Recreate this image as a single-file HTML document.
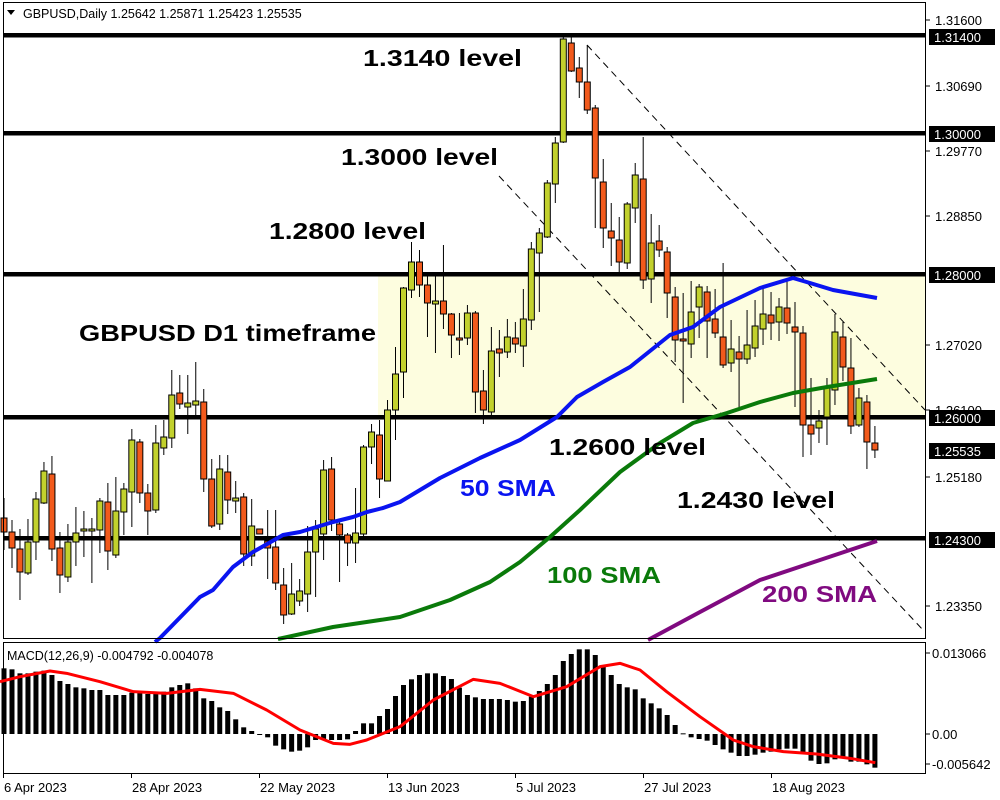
<!DOCTYPE html>
<html><head><meta charset="utf-8"><style>
html,body{margin:0;padding:0;background:#fff;}
svg{display:block;font-family:"Liberation Sans",sans-serif;}
</style></head><body>
<svg id="s" width="1000" height="800" xmlns="http://www.w3.org/2000/svg">
<rect width="1000" height="800" fill="#fff"/>
<rect x="378" y="276" width="547" height="144" fill="#fdfddf"/>
<g id="g"></g>
</svg>
<script>
var C=[
['r',518,532,498,550],['r',532,548,520,568],['r',549,572,529,600],['g',542,573,519,575],['g',499,542,492,560],
['g',471,503,462,504],['r',474,549,456,561],['r',548,575,532,593],['g',542,577,524,582],['g',533,542,507,566],
['g',529,531,511,557],['g',529,531,518,583],['g',501,530,498,553],['r',502,551,483,570],['g',511,555,477,558],
['g',489,512,483,535],['g',440,492,429,527],['r',442,493,439,503],['r',493,511,484,535],['g',443,510,425,513],
['g',437,448,420,455],['g',395,438,370,448],['r',393,404,375,409],['g',403,407,375,434],['g',401,405,362,415],
['r',402,479,389,492],['r',479,526,459,528],['g',469,524,455,530],['r',472,500,455,514],['g',498,501,481,513],
['r',497,554,493,566],['g',526,556,499,566],['r',529,534,529,534],['r',541,548,510,579],['r',547,583,510,590],
['r',585,615,568,624],['g',594,614,563,615],['g',591,601,579,606],['g',552,594,526,612],['g',529,552,520,597],
['g',470,534,460,560],['r',469,520,457,531],['r',524,535,520,582],['r',535,543,533,566],['g',533,543,488,563],
['g',447,534,445,537],['g',432,447,424,464],['r',435,479,420,498],['g',410,481,400,481],['g',374,410,347,440],
['g',288,372,287,398],['g',262,290,242,298],['r',262,285,250,297],['r',285,303,272,337],['g',301,304,273,353],
['r',301,314,245,329],['r',314,335,313,358],['r',338,340,313,355],['g',313,338,305,345],['r',313,392,311,413],
['r',391,410,370,424],['g',351,412,327,415],['r',349,353,330,377],['g',337,352,319,358],['r',338,344,322,353],
['g',319,346,289,367],['g',249,320,242,330],['g',233,253,228,312],['g',183,237,180,238],['g',143,184,137,203],
['g',39,142,37,143],['r',43,71,37,72],['r',68,82,57,98],['r',82,110,45,114],['r',108,178,105,228],
['r',182,228,159,248],['r',231,238,203,266],['r',240,262,217,273],['g',204,263,202,269],['g',175,208,163,223],
['r',179,280,137,289],['g',243,279,214,303],['r',241,250,225,257],['r',252,293,247,318],['r',297,340,287,362],
['r',339,341,293,403],['g',312,344,281,358],['g',287,307,284,338],['r',292,321,286,358],['r',319,333,289,338],
['r',337,365,263,368],['g',349,363,320,372],['r',352,359,336,407],['g',345,359,310,364],['g',326,348,300,357],
['g',314,329,286,345],['r',315,323,292,340],['g',307,322,298,341],['r',308,323,281,334],['r',327,332,302,407],
['r',333,425,326,457],['r',425,434,378,455],['g',421,428,410,443],['g',387,417,378,445],['g',332,390,314,405],
['r',337,367,322,381],['r',368,426,338,434],['g',398,425,388,427],['r',402,442,395,469],['r',443,450,426,458]];
var M=[115,118,130,130,125,122,135,153,162,172,175,180,180,195,195,195,188,188,192,190,185,172,165,160,175,205,213,232,243,268,292,303,312,322,347,358,365,362,352,330,330,330,330,328,303,280,280,258,237,198,165,148,135,130,130,138,147,173,195,202,207,207,
207,210,215,213,200,183,162,135,93,72,58,58,75,108,135,162,172,178,205,220,235,255,285,310,322,327,332,345,358,368,378,378,374,368,365,358,356,356,372,392,402,400,388,385,395,395,403,413];
var h='';
function X(i){return 4+7.99*i;}
[35,133,274,417,538].forEach(function(y){h+='<rect x="4" y="'+(y-2)+'" width="921" height="4.5" fill="#000"/>';});
h+='<line x1="587" y1="45" x2="925" y2="410" stroke="#000" stroke-width="1" stroke-dasharray="7,5"/>';
h+='<line x1="499" y1="176" x2="923" y2="630" stroke="#000" stroke-width="1" stroke-dasharray="7,5"/>';
C.forEach(function(c,i){var x=X(i);var col=c[0]=='g'?'#c2d12d':'#f25a1c';
h+='<line x1="'+x+'" y1="'+c[3]+'" x2="'+x+'" y2="'+c[4]+'" stroke="#000" stroke-width="1"/>';
var hh=Math.max(c[2]-c[1],1);
h+='<rect x="'+(x-3)+'" y="'+c[1]+'" width="6" height="'+hh+'" fill="'+col+'" stroke="#000" stroke-width="1"/>';});
function pl(p,col){h+='<polyline points="'+p+'" fill="none" stroke="'+col+'" stroke-width="4" stroke-linejoin="round"/>';}
pl('155,642 160,638 200,597 213,590 233,567 253,552 283,535 300,532 333,522 353,517 367,512 383,508 400,502 440,478 480,458 520,440 557,417 577,397 603,382 630,367 670,335 693,327 720,307 760,288 793,278 810,283 833,290 855,294 877,298','#0a14f0');
pl('278,639 333,627 380,620 400,617 450,600 490,582 520,562 550,537 580,510 620,472 660,443 693,423 727,413 760,402 793,393 827,387 877,379','#0a7a0a');
pl('648,640 700,612 760,580 820,560 877,541','#800a80');
h+='<rect x="3.5" y="2.5" width="922" height="636" fill="none" stroke="#000"/>';
h+='<rect x="3.5" y="642.5" width="922" height="131" fill="none" stroke="#000"/>';
M.forEach(function(v,i){var y=630+v/3;var x=X(i);var t=Math.min(y,734),b=Math.max(y,734);
h+='<rect x="'+(x-2.5)+'" y="'+t+'" width="5" height="'+Math.max(b-t,1)+'" fill="#000"/>';});
var sg=[[0,155],[60,140],[150,123],[200,130],[300,155],[400,185],[500,190],[600,178],[700,190],[800,240],[900,300],[1000,340],[1050,343],[1100,330],[1200,290],[1300,210],[1420,148]].map(function(p){return (p[0]/3)+','+(630+p[1]/3);});
var sg2=[[0,160],[100,200],[200,170],[300,110],[360,100],[420,120],[500,185],[600,260],[700,330],[760,350],[850,365],[950,372],[1050,385],[1126,398]].map(function(p){return (500+p[0]/3)+','+(630+p[1]/3);});
h+='<polyline points="'+sg.concat(sg2).join(' ')+'" fill="none" stroke="#f00" stroke-width="3" stroke-linejoin="round"/>';
[['1.31600',20],['1.30690',86],['1.29770',151],['1.28850',216],['1.27020',345],['1.26100',410],['1.25180',477],['1.23350',606]].forEach(function(a){
h+='<line x1="926" y1="'+a[1]+'" x2="930" y2="'+a[1]+'" stroke="#000"/><text x="935" y="'+(a[1]+5)+'" font-size="13" fill="#000">'+a[0]+'</text>';});
[['1.31400',37],['1.30000',134],['1.28000',275],['1.26000',418],['1.25535',451],['1.24300',540]].forEach(function(a){
h+='<rect x="929" y="'+(a[1]-8)+'" width="66" height="16" fill="#000"/><text x="934" y="'+(a[1]+5)+'" font-size="13" fill="#fff">'+a[0]+'</text>';});
[['0.013066',653],['0.00',734],['-0.005642',764]].forEach(function(a){
h+='<line x1="926" y1="'+a[1]+'" x2="930" y2="'+a[1]+'" stroke="#000"/><text x="932" y="'+(a[1]+5)+'" font-size="13" fill="#000">'+a[0]+'</text>';});
[['6 Apr 2023',3],['28 Apr 2023',131],['22 May 2023',259],['13 Jun 2023',387],['5 Jul 2023',515],['27 Jul 2023',643],['18 Aug 2023',771]].forEach(function(a){
h+='<line x1="'+a[1]+'.5" y1="774" x2="'+a[1]+'.5" y2="778" stroke="#000"/><text x="'+(a[1]+1)+'" y="792" font-size="13" fill="#000">'+a[0]+'</text>';});
h+='<polygon points="7,10 15,10 11,15" fill="#000"/><text x="23" y="18" font-size="12.5" fill="#000">GBPUSD,Daily  1.25642 1.25871 1.25423 1.25535</text>';
h+='<text x="7" y="660" font-size="12.5" fill="#000">MACD(12,26,9) -0.004792 -0.004078</text>';
[['1.3140 level',363,58,159,'#000'],['1.3000 level',341,157,157,'#000'],['1.2800 level',269,231,157,'#000'],['GBPUSD D1 timeframe',79,333,297,'#000'],['1.2600 level',549,447,157,'#000'],['50 SMA',460,488,96,'#0a14f0'],['1.2430 level',677,500,158,'#000'],['100 SMA',547,575,114,'#0a7a0a'],['200 SMA',762,594,115,'#800a80']].forEach(function(a){
h+='<text x="'+a[1]+'" y="'+(a[2]+8)+'" font-size="23" font-weight="bold" fill="'+a[4]+'" textLength="'+a[3]+'" lengthAdjust="spacingAndGlyphs">'+a[0]+'</text>';});
document.getElementById('g').innerHTML=h;
</script>
</body></html>
